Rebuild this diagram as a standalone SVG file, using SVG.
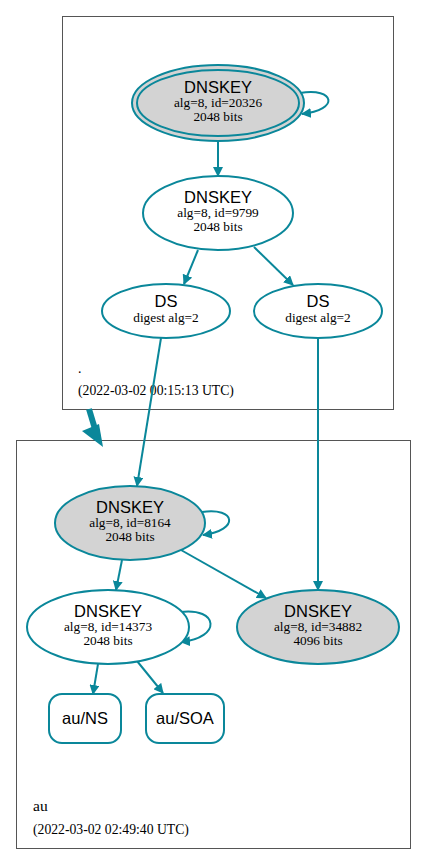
<svg xmlns="http://www.w3.org/2000/svg" width="427" height="865" viewBox="0 0 427 865">
<defs>
<marker id="ah" markerWidth="10" markerHeight="10" refX="9" refY="5" orient="auto" markerUnits="userSpaceOnUse" viewBox="0 0 10 10">
<path d="M0,0 L10,5 L0,10 z" fill="#0a879a"/>
</marker>
</defs>
<style>
.cl{fill:none;stroke:#555;stroke-width:1}
.n{fill:#fff;stroke:#0a879a;stroke-width:2}
.g{fill:#d3d3d3;stroke:#0a879a;stroke-width:2}
.e{fill:none;stroke:#0a879a;stroke-width:2;marker-end:url(#ah)}
.t{font-family:"Liberation Sans",Arial,sans-serif;font-size:16.5px;fill:#000;text-anchor:middle}
.s{font-family:"Liberation Serif","Times New Roman",serif;font-size:13.3px;fill:#000;text-anchor:middle}
.l{font-family:"Liberation Serif","Times New Roman",serif;font-size:13.7px;fill:#000}
</style>
<rect width="427" height="865" fill="#fff"/>
<g id="cluster_root">
<rect class="cl" x="62.5" y="16.5" width="331" height="393"/>
<text class="l" x="78" y="373">.</text>
<text class="l" x="78" y="395">(2022-03-02 00:15:13 UTC)</text>
</g>
<g id="cluster_au">
<rect class="cl" x="16.5" y="440.5" width="394" height="408"/>
<text class="l" x="33" y="811" style="font-size:15.5px">au</text>
<text class="l" x="33" y="834">(2022-03-02 02:49:40 UTC)</text>
</g>
<g id="connectors">
<path class="e" d="M300,93 C335,87 340,110 302,114"/>
<path class="e" d="M218,141 L218,176"/>
<path class="e" d="M198,250 L184,284"/>
<path class="e" d="M254,247 L293,285"/>
<path class="e" d="M161,338 L137,486"/>
<path class="e" d="M318,338 L318,590"/>
<path class="e" d="M202,512 C236,507 240,530 203,535"/>
<path class="e" d="M122,560 L116,590"/>
<path class="e" d="M181,550 L266,598"/>
<path class="e" d="M180,612 C219,607 222,638 181,642"/>
<path class="e" d="M98,664 L93,694"/>
<path class="e" d="M137,661 L163,693"/>
<path d="M89,409 L95,429" stroke="#0a879a" stroke-width="6" fill="none"/>
<path d="M82,431 L99,424 L103,447 z" fill="#0a879a"/>
</g>
<g id="ksk20326">
<ellipse class="g" cx="218" cy="103" rx="86" ry="38"/>
<ellipse class="g" cx="218" cy="103" rx="81" ry="33"/>
<text class="t" x="218" y="93">DNSKEY</text>
<text class="s" x="218" y="107">alg=8, id=20326</text>
<text class="s" x="218" y="121">2048 bits</text>
</g>
<g id="zsk9799">
<ellipse class="n" cx="218" cy="213" rx="75" ry="37"/>
<text class="t" x="218" y="203">DNSKEY</text>
<text class="s" x="218" y="217">alg=8, id=9799</text>
<text class="s" x="218" y="231">2048 bits</text>
</g>
<g id="ds1">
<ellipse class="n" cx="166" cy="311" rx="64" ry="27"/>
<text class="t" x="166" y="307">DS</text>
<text class="s" x="166" y="322">digest alg=2</text>
</g>
<g id="ds2">
<ellipse class="n" cx="318" cy="311" rx="64" ry="27"/>
<text class="t" x="318" y="307">DS</text>
<text class="s" x="318" y="322">digest alg=2</text>
</g>
<g id="ksk8164">
<ellipse class="g" cx="130" cy="523" rx="75" ry="37"/>
<text class="t" x="130" y="513">DNSKEY</text>
<text class="s" x="130" y="527">alg=8, id=8164</text>
<text class="s" x="130" y="541">2048 bits</text>
</g>
<g id="zsk14373">
<ellipse class="n" cx="108" cy="627" rx="81" ry="37"/>
<text class="t" x="108" y="617">DNSKEY</text>
<text class="s" x="108" y="631">alg=8, id=14373</text>
<text class="s" x="108" y="645">2048 bits</text>
</g>
<g id="ksk34882">
<ellipse class="g" cx="318" cy="627" rx="81" ry="37"/>
<text class="t" x="318" y="617">DNSKEY</text>
<text class="s" x="318" y="631">alg=8, id=34882</text>
<text class="s" x="318" y="645">4096 bits</text>
</g>
<g id="au_ns">
<rect class="n" x="49" y="694" width="72" height="49" rx="13"/>
<text class="t" x="85" y="724">au/NS</text>
</g>
<g id="au_soa">
<rect class="n" x="146" y="694" width="78" height="49" rx="13"/>
<text class="t" x="185" y="724">au/SOA</text>
</g>
</svg>
